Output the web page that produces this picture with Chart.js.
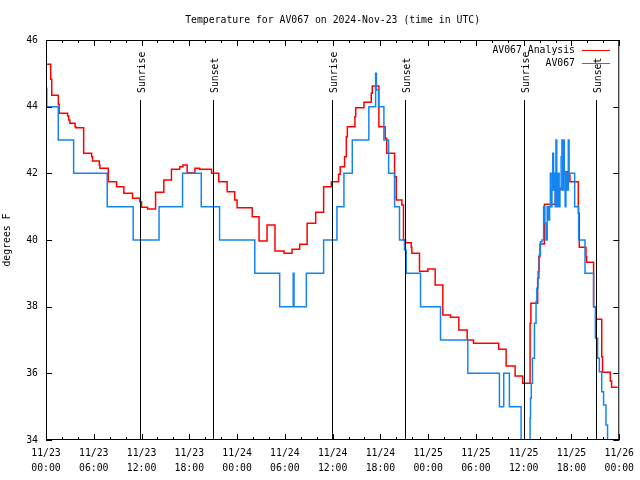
<!DOCTYPE html>
<html>
<head>
<meta charset="utf-8">
<script src="https://cdn.jsdelivr.net/npm/chart.js@4"></script>
<style>
  body { margin: 0; background: #fff; }
  canvas { display: block; }
</style>
</head>
<body>
<canvas id="tempChart" width="640" height="480"></canvas>
<script>
// hours since 11/23 00:00 UTC
const redHours = [0, 0.59, 0.72, 1.55, 1.65, 2.72, 2.85, 3.0, 3.65, 3.75, 4.73, 5.73, 5.85, 6.69, 6.77, 7.82, 8.86, 9.78, 10.87, 11.79,
  12.0, 12.76, 13.76, 14.8, 15.76, 16.8, 17.2, 17.73, 18.7, 19.3, 20.79, 21.7, 22.75, 23.7, 24.0, 25.9, 26.76, 27.76, 28.76, 29.9,
  30.9, 31.86, 32.8, 33.87, 34.87, 35.84, 36.75, 36.95, 37.5, 37.72, 37.85, 38.8, 38.9, 39.93, 40.85, 40.98, 41.81, 42.6, 42.8, 43.78,
  43.99, 44.7, 44.9, 45.16, 45.87, 45.95, 46.91, 47.96, 48.88, 49.84, 50.8, 51.85, 52.9, 53.69, 56.86, 57.79, 58.92, 59.87, 60.8, 60.9,
  61.75, 61.9, 62.05, 62.6, 63.97, 64.98, 65.5, 65.8, 66.86, 66.98, 67.82, 67.9, 68.78, 69.08, 69.8, 69.9, 70.87, 71.04, 71.8];
const redTemps = [45.27, 44.82, 44.34, 44.07, 43.8, 43.72, 43.6, 43.5, 43.4, 43.37, 42.6, 42.5, 42.37, 42.25, 42.15, 41.75, 41.6, 41.4, 41.25, 41.15,
  40.98, 40.93, 41.43, 41.8, 42.12, 42.2, 42.25, 42.02, 42.15, 42.12, 42.0, 41.75, 41.45, 41.2, 40.97, 40.7, 39.97, 40.45, 39.67, 39.6,
  39.72, 39.87, 40.5, 40.83, 41.6, 41.75, 41.97, 42.2, 42.5, 43.1, 43.4, 43.7, 43.97, 44.13, 44.4, 44.62, 43.4, 43.05, 42.6, 41.9,
  41.2, 41.05, 40.0, 39.92, 39.78, 39.6, 39.06, 39.13, 38.65, 37.75, 37.68, 37.3, 37.0, 36.9, 36.72, 36.22, 35.92, 35.7, 37.5, 38.1,
  38.85, 39.5, 39.88, 41.07, 41.55, 42.05, 41.95, 41.75, 40.8, 39.78, 39.5, 39.33, 38.0, 37.62, 36.5, 36.03, 35.77, 35.58, 35.58];

const blueHours = [0, 0.1, 1.54, 3.47, 7.69, 10.95, 14.2, 17.15, 19.5, 21.8, 26.22, 29.35, 31.05, 31.15, 32.7, 34.87, 36.54, 37.42, 38.47, 40.55,
  41.4, 41.5, 41.77, 42.44, 43.03, 43.78, 44.4, 45.03, 45.24, 47.04, 49.55, 52.98, 56.95, 57.49, 58.2, 59.67, 59.88, 60.8, 60.85, 60.95,
  61.1, 61.35, 61.55, 61.65, 61.8, 61.95, 62.1, 62.3, 62.5, 62.65, 62.8, 62.95, 63.1, 63.25, 63.35, 63.45, 63.55, 63.65, 63.75, 63.85,
  63.95, 64.05, 64.15, 64.3, 64.45, 64.55, 64.7, 64.8, 64.9, 65.0, 65.1, 65.2, 65.3, 65.45, 65.6, 65.7, 66.4, 66.9, 67.7, 68.78,
  69.0, 69.28, 69.5, 69.8, 70.03, 70.33, 70.53, 71.0];
const blueTemps = [44.55, 44, 43, 42, 41, 40, 41, 42, 41, 40, 39, 38, 39, 38, 39, 40, 41, 42, 43, 44,
  45, 44.5, 44, 43, 42, 41, 40, 39.7, 39, 38, 37, 36, 35, 36, 35, 34, 33, 34.65, 35.25, 35.7,
  36.45, 37.5, 38.15, 38.55, 39.05, 39.55, 39.95, 40, 41, 40.5, 40, 41, 40.6, 41, 42, 41, 41.5, 42.6, 41.5, 42,
  41, 43, 41, 42, 41, 41.5, 42.5, 43, 41.5, 43, 42, 41, 42, 41.5, 43, 42, 41, 40, 39, 38,
  37.05, 36.45, 36.05, 35.45, 35.05, 34.45, 33.5, 33];

const sunHours = [11.85, 20.99, 35.93, 45.05, 60.0, 69.05];
const sunLabels = ['Sunrise', 'Sunset', 'Sunrise', 'Sunset', 'Sunrise', 'Sunset'];

const tickDates = ['11/23', '11/23', '11/23', '11/23', '11/24', '11/24', '11/24', '11/24', '11/25', '11/25', '11/25', '11/25', '11/26'];
const tickTimes = ['00:00', '06:00', '12:00', '18:00', '00:00', '06:00', '12:00', '18:00', '00:00', '06:00', '12:00', '18:00', '00:00'];

const FONT = 'DejaVu Sans Mono';

const overlay = {
  id: 'overlay',
  afterDatasetsDraw(chart) {
    const { ctx, chartArea: a, scales } = chart;
    const x = scales.x, y = scales.y;
    ctx.save();
    ctx.strokeStyle = '#000';
    ctx.lineWidth = 1;
    ctx.fillStyle = '#000';
    ctx.font = '9.8px "' + FONT + '"';
    // sunrise / sunset markers
    sunHours.forEach((h, i) => {
      const px = Math.round(x.getPixelForValue(h)) + 0.5;
      ctx.beginPath();
      ctx.moveTo(px, a.top + 60);
      ctx.lineTo(px, a.bottom);
      ctx.stroke();
      ctx.save();
      ctx.translate(px + 1.5, a.top + 53);
      ctx.rotate(-Math.PI / 2);
      ctx.textAlign = 'left';
      ctx.textBaseline = 'middle';
      ctx.fillText(sunLabels[i], 0, 0);
      ctx.restore();
    });
    // frame
    ctx.strokeRect(a.left + 0.5, a.top + 0.5, a.right - a.left - 1, a.bottom - a.top - 1);
    // inward ticks
    ctx.beginPath();
    for (let h = 0; h <= 72; h += 2) {
      const px = Math.round(x.getPixelForValue(h)) + 0.5;
      const len = h % 6 === 0 ? 6 : 3;
      ctx.moveTo(px, a.bottom); ctx.lineTo(px, a.bottom - len);
      ctx.moveTo(px, a.top); ctx.lineTo(px, a.top + len);
    }
    for (let v = 34; v <= 46; v += 2) {
      const py = Math.round(y.getPixelForValue(v)) + 0.5;
      ctx.moveTo(a.left, py); ctx.lineTo(a.left + 6, py);
      ctx.moveTo(a.right, py); ctx.lineTo(a.right - 6, py);
    }
    ctx.stroke();
    ctx.restore();
  },
  afterDraw(chart) {
    const { ctx, chartArea: a } = chart;
    ctx.save();
    ctx.fillStyle = '#000';
    ctx.font = '9.8px "' + FONT + '"';
    ctx.textAlign = 'center';
    ctx.textBaseline = 'middle';
    ctx.fillText('Temperature for AV067 on 2024-Nov-23 (time in UTC)', (a.left + a.right) / 2, 20);
    // legend: text left of the line sample
    chart.data.datasets.forEach((ds, i) => {
      const ly = a.top + 10 + i * 13;
      ctx.textAlign = 'right';
      ctx.fillStyle = '#000';
      ctx.fillText(ds.label, a.left + 529, ly);
      ctx.strokeStyle = ds.borderColor;
      ctx.lineWidth = 1;
      ctx.beginPath();
      ctx.moveTo(a.left + 536, Math.round(ly) + 0.5);
      ctx.lineTo(a.left + 564, Math.round(ly) + 0.5);
      ctx.stroke();
    });
    ctx.restore();
  }
};

new Chart(document.getElementById('tempChart'), {
  type: 'line',
  data: {
    datasets: [
      {
        label: 'AV067 Analysis',
        data: redHours.map((h, i) => ({ x: h, y: redTemps[i] })),
        borderColor: '#ff0000',
        borderWidth: 1.5,
        stepped: 'before',
        pointRadius: 0,
        fill: false,
        order: 1
      },
      {
        label: 'AV067',
        data: blueHours.map((h, i) => ({ x: h, y: blueTemps[i] })),
        borderColor: '#1485f0',
        borderWidth: 1.5,
        stepped: 'before',
        pointRadius: 0,
        fill: false,
        order: 0
      }
    ]
  },
  options: {
    responsive: false,
    devicePixelRatio: 1,
    animation: false,
    layout: { padding: { left: 0, right: 20, top: 40, bottom: 0 } },
    plugins: {
      legend: { display: false },
      title: { display: false },
      tooltip: { enabled: false }
    },
    scales: {
      x: {
        type: 'linear',
        min: 0,
        max: 72,
        grid: { display: false, drawTicks: false },
        border: { display: false },
        afterFit: (s) => { s.height = 40; },
        ticks: {
          stepSize: 6,
          autoSkip: false,
          maxRotation: 0,
          padding: 6,
          color: '#000',
          font: { family: FONT, size: 9.8, lineHeight: 1.5 },
          callback: (v) => [tickDates[v / 6], tickTimes[v / 6]]
        }
      },
      y: {
        min: 34,
        max: 46,
        grid: { display: false, drawTicks: false },
        border: { display: false },
        afterFit: (s) => { s.width = 46; },
        ticks: {
          stepSize: 2,
          padding: 8,
          color: '#000',
          font: { family: FONT, size: 9.8 }
        },
        title: {
          display: true,
          text: 'degrees F',
          color: '#000',
          padding: { top: 2, bottom: 0 },
          font: { family: FONT, size: 9.8 }
        }
      }
    }
  },
  plugins: [overlay]
});
</script>
</body>
</html>
